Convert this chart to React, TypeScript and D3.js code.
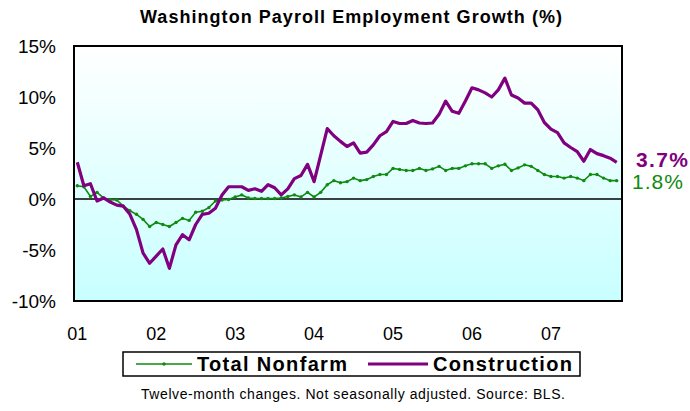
import React from 'react';
import * as d3 from 'd3';

// Washington payroll employment, 12-month % change, Jan 2001 - Nov 2007
const years = ['01', '02', '03', '04', '05', '06', '07'];

const totalNonfarm = [
  1.3, 1.2, 0.25, 0.65, 0.1, -0.07, -0.1, -0.7, -1.15, -1.5, -2.0, -2.7,
  -2.3, -2.5, -2.7, -2.3, -1.9, -2.1, -1.3, -1.2, -0.85, -0.2, -0.1, -0.05,
  0.2, 0.4, 0.1, 0.05, 0.05, 0.05, 0.05, 0.1, 0.25, 0.4, 0.2, 0.65,
  0.2, 0.65, 1.4, 1.8, 1.6, 1.7, 2.05, 1.8, 1.9, 2.2, 2.4, 2.4,
  3.0, 2.9, 2.8, 2.8, 3.0, 2.8, 2.95, 3.2, 2.8, 3.0, 3.0, 3.25,
  3.45, 3.45, 3.45, 3.0, 3.25, 3.4, 2.8, 3.05, 3.35, 3.2, 2.8, 2.4,
  2.2, 2.2, 2.05, 2.2, 2.05, 1.8, 2.4, 2.4, 2.05, 1.8, 1.8
];

const construction = [
  3.6, 1.3, 1.5, -0.2, 0.1, -0.3, -0.6, -0.7, -1.5, -3.0, -5.3, -6.3,
  -5.6, -4.9, -6.8, -4.5, -3.5, -4.0, -2.5, -1.5, -1.4, -0.9, 0.4, 1.2,
  1.2, 1.2, 0.85, 1.0, 0.75, 1.4, 1.1, 0.4, 1.0, 2.0, 2.3, 3.4,
  1.7, 4.3, 6.9, 6.2, 5.65, 5.15, 5.5, 4.5, 4.6, 5.3, 6.2, 6.6,
  7.6, 7.4, 7.4, 7.7, 7.45, 7.4, 7.45, 8.3, 9.6, 8.6, 8.4, 9.6,
  10.9, 10.7, 10.4, 10.0, 10.7, 11.85, 10.2, 9.9, 9.4, 9.4, 8.75, 7.5,
  6.85, 6.5, 5.5, 5.05, 4.65, 3.7, 4.85, 4.45, 4.25, 4.0, 3.6
];

const yTicks = [-10, -5, 0, 5, 10, 15];

const width = 690;
const height = 411;
const margin = { top: 46, right: 70, bottom: 110, left: 74 };
const green = '#108a10';
const purple = '#800080';
const font = 'Arial, "Liberation Sans", Helvetica, sans-serif';

export default function App() {
  const months = d3.range(construction.length);

  const x = d3.scaleBand<number>()
    .domain(months)
    .range([margin.left, width - margin.right]);
  const cx = (i: number) => (x(i) as number) + x.bandwidth() / 2;

  const y = d3.scaleLinear()
    .domain([-10, 15])
    .range([height - margin.bottom, margin.top]);

  const line = d3.line<number>()
    .x((d, i) => cx(i))
    .y(d => y(d));

  const plotRight = width - margin.right + 2;
  const plotBottom = y(-10);

  return (
    <svg width={width} height={height} style={{ position: 'absolute', left: 0, top: 0, background: '#fff' }}
      fontFamily={font}>
      <defs>
        <linearGradient id="bg" x1="0" y1="0" x2="0" y2="1">
          <stop offset="0%" stopColor="#ffffff" />
          <stop offset="100%" stopColor="#c8ffff" />
        </linearGradient>
      </defs>

      <text x={351} y={23} textAnchor="middle" fontWeight="bold" fontSize={18}
        textLength={422} lengthAdjust="spacing">Washington Payroll Employment Growth (%)</text>

      {/* plot area */}
      <rect x={margin.left} y={margin.top} width={plotRight - margin.left} height={plotBottom - margin.top}
        fill="url(#bg)" />
      <line x1={margin.left} x2={plotRight} y1={y(0)} y2={y(0)} stroke="#000" strokeWidth={1.5} />

      {yTicks.map(t => (
        <text key={t} x={56} y={y(t)} dy="0.36em" textAnchor="end" fontSize={19}>{t}%</text>
      ))}

      {years.map((yr, k) => (
        <text key={yr} x={cx(k * 12)} y={340} textAnchor="middle" fontSize={18}>{yr}</text>
      ))}

      <path d={line(totalNonfarm) || ''} fill="none" stroke={green} strokeWidth={1.6} />
      {totalNonfarm.map((v, i) => (
        <circle key={i} cx={cx(i)} cy={y(v)} r={1.7} fill={green} />
      ))}
      <path d={line(construction) || ''} fill="none" stroke={purple} strokeWidth={3.2} strokeLinejoin="round" />

      <rect x={margin.left} y={margin.top} width={plotRight - margin.left} height={plotBottom - margin.top}
        fill="none" stroke="#000" strokeWidth={2} />

      {/* end labels */}
      <text x={636} y={y(construction[construction.length - 1]) - 3} dy="0.36em" fontSize={21} fontWeight="bold"
        fill={purple} textLength={52} lengthAdjust="spacing">3.7%</text>
      <text x={632} y={y(totalNonfarm[totalNonfarm.length - 1]) + 1} dy="0.36em" fontSize={21}
        fill={green} textLength={51} lengthAdjust="spacing">1.8%</text>

      {/* legend */}
      <rect x={123} y={352} width={457} height={24} fill="#fff" stroke="#000" strokeWidth={1.5} />
      <line x1={136} x2={192} y1={364} y2={364} stroke={green} strokeWidth={1.6} />
      <circle cx={164} cy={364} r={1.8} fill={green} />
      <text x={197} y={364} dy="0.36em" fontSize={20} fontWeight="bold" textLength={150}
        lengthAdjust="spacing">Total Nonfarm</text>
      <line x1={368} x2={428} y1={364} y2={364} stroke={purple} strokeWidth={3.2} />
      <text x={433} y={364} dy="0.36em" fontSize={20} fontWeight="bold" textLength={139}
        lengthAdjust="spacing">Construction</text>

      <text x={141} y={394} dy="0.36em" fontSize={14} textLength={424}
        lengthAdjust="spacing">Twelve-month changes.  Not seasonally adjusted.  Source: BLS.</text>
    </svg>
  );
}
